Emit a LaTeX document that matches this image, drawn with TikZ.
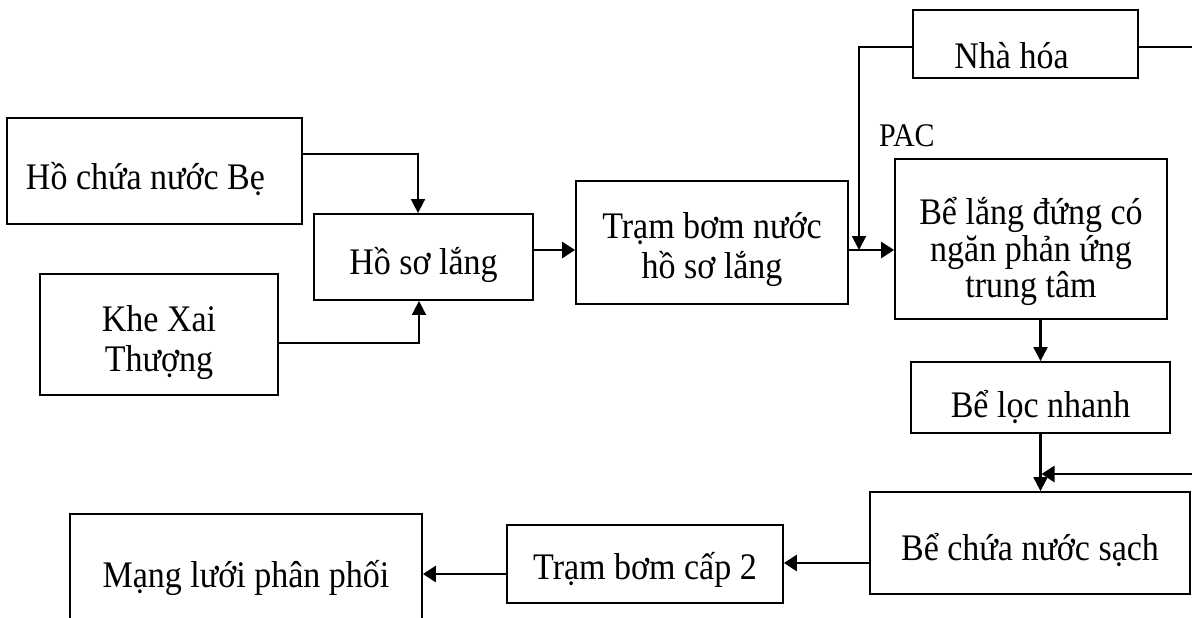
\documentclass[tikz,border=0pt]{standalone}
\usepackage{fontspec}
\setmainfont{Liberation Serif}[FakeStretch=0.907]
\usetikzlibrary{arrows.meta,calc}
\begin{document}
\begin{tikzpicture}[x=1pt,y=-1pt,
  box/.style 2 args={draw, line width=1.8pt, inner sep=0pt, minimum width=#1, minimum height=#2},
  txt/.style={font=\fontsize{37.5}{40}\selectfont, align=center, yshift=-8pt, inner sep=0pt},
  conn/.style={line width=1.7pt, -{Triangle[length=14pt,width=14pt]}},
  bold/.style={line width=2.8pt, -{Triangle[length=13pt,width=16pt]}},
  plain/.style={line width=1.7pt}]
\useasboundingbox (0,0) rectangle (1192,618);
\clip (0,0) rectangle (1192,618);
% boxes
\node[box={295pt}{106pt}, label={[txt,xshift=-9pt]center:Hồ chứa nước Bẹ}] (be) at (154.5,171) {};
\node[box={238pt}{121pt}, label={[txt]center:{Khe Xai\\Thượng}}] (khe) at (159,334.5) {};
\node[box={219pt}{86pt}, label={[txt]center:Hồ sơ lắng}] (hsl) at (423.5,257) {};
\node[box={272pt}{123pt}, label={[txt,yshift=1pt]center:{Trạm bơm nước\\hồ sơ lắng}}] (tb) at (712,242.5) {};
\node[box={225pt}{68pt}, label={[txt,xshift=-14pt,yshift=-3.25pt]center:Nhà hóa}] (nh) at (1025.5,44) {};
\node[box={272pt}{160pt}, label={[txt,yshift=-4.75pt]center:{Bể lắng đứng có\\[-3.5pt]ngăn phản ứng\\[-3.5pt]trung tâm}}] (bl) at (1031,239) {};
\node[box={259pt}{71pt}, label={[txt,yshift=-1.75pt]center:Bể lọc nhanh}] (loc) at (1040.5,397.5) {};
\node[box={320pt}{102pt}, label={[txt,yshift=0.75pt]center:Bể chứa nước sạch}] (bc) at (1030,543) {};
\node[box={276pt}{78pt}, label={[txt,yshift=1.75pt]center:Trạm bơm cấp 2}] (tb2) at (645,564) {};
\node[box={352pt}{111pt}, label={[txt]center:Mạng lưới phân phối}] (mang) at (246,569.5) {};
\node[font=\fontsize{33}{36}\selectfont, anchor=base west, inner sep=0pt] (pac) at (879,146) {PAC};
% free ends
\coordinate (pacend) at (859,250);
\coordinate (nhr) at (1192,47);
\coordinate (rin) at (1192,474);
% connectors
\draw[conn] ([yshift=17pt]be.east) -| ([xshift=-5.5pt]hsl.north);
\draw[conn] ([yshift=-8.5pt]khe.east) -| ([xshift=-4.5pt]hsl.south);
\draw[bold] ([yshift=7pt]hsl.east) -- ([yshift=7pt]hsl.east -| tb.west);
\draw[bold] ([yshift=-7.5pt]tb.east) -- ([yshift=-7.5pt]tb.east -| bl.west);
\draw[conn, line width=2pt] ([yshift=-3pt]nh.west) -| (pacend);
\draw[plain] ([yshift=-3pt]nh.east) -- (nhr);
\draw[conn, line width=2.2pt] (loc.north |- bl.south) -- (loc.north);
\draw[conn, line width=2.2pt] (loc.south) -- (loc.south |- bc.north);
\draw[bold, shorten >=1pt] (rin) -- (rin -| loc.south);
\draw[bold] ([yshift=-20pt]bc.west) -- ([yshift=-20pt]bc.west -| tb2.east);
\draw[bold] ([yshift=-10pt]tb2.west) -- ([yshift=-10pt]tb2.west -| mang.east);
\end{tikzpicture}
\end{document}
